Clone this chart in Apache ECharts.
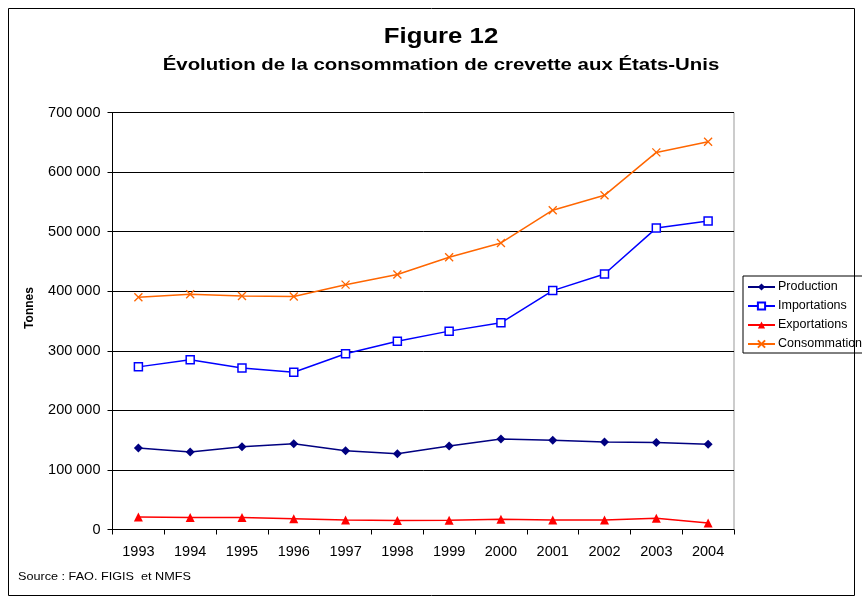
<!DOCTYPE html>
<html>
<head>
<meta charset="utf-8">
<script src="https://cdn.jsdelivr.net/npm/echarts@6/dist/echarts.min.js"></script>
<style>
  html, body { margin:0; padding:0; background:#fff; }
  #chart { width:862px; height:598px; }
</style>
</head>
<body>
<div id="chart"></div>
<script>
// données
var years = ['1993','1994','1995','1996','1997','1998','1999','2000','2001','2002','2003','2004'];
var production    = [137000,130000,139000,144000,132000,127000,140000,152000,150000,147000,146000,143000];
var importations  = [273000,285000,271000,264000,295000,316000,333000,347000,401000,429000,506000,518000];
var exportations  = [21000,20000,20000,18000,16000,15000,15500,17000,16000,16000,19000,11000];
var consommation  = [390000,395000,392000,391000,411000,428000,457000,481000,536000,561000,633000,651000];

var myChart = echarts.init(document.getElementById('chart'));

function fmt(v){
  return String(v).replace(/\B(?=(\d{3})+(?!\d))/g, ' ');
}

var font = 'Liberation Sans, Arial, sans-serif';

var option = {
  animation: false,
  textStyle: { fontFamily: font },
  graphic: [
    {
      type: 'rect',
      shape: { x: 8.5, y: 8.5, width: 846, height: 587 },
      style: { fill: 'none', stroke: '#000', lineWidth: 1 },
      z: -1
    },
    // titres (texte un peu étiré comme dans l'original)
    {
      type: 'text', x: 441, y: 37, scaleX: 1.17,
      style: { text: 'Figure 12', font: 'bold 22px ' + font, fill: '#000', align: 'center', verticalAlign: 'middle' }
    },
    {
      type: 'text', x: 441, y: 65, scaleX: 1.2,
      style: { text: 'Évolution de la consommation de crevette aux États-Unis', font: 'bold 17px ' + font, fill: '#000', align: 'center', verticalAlign: 'middle' }
    },
    {
      type: 'text', x: 30, y: 308, rotation: Math.PI / 2,
      style: { text: 'Tonnes', font: 'bold 12px ' + font, fill: '#000', align: 'center', verticalAlign: 'middle' }
    },
    {
      type: 'text', x: 18, y: 577, scaleX: 1.1,
      style: { text: 'Source : FAO. FIGIS  et NMFS', font: '11.5px ' + font, fill: '#000', align: 'left', verticalAlign: 'middle' }
    }
  ],
  legend: {
    orient: 'vertical',
    left: 743, top: 276,
    padding: [4, 4, 2, 4],
    itemGap: 5,
    itemWidth: 27,
    itemHeight: 9,
    borderColor: '#000',
    borderWidth: 1,
    textStyle: { fontSize: 12.5, lineHeight: 14, color: '#000', fontFamily: font, padding: [0, 0, 0, -2] },
    data: ['Production', 'Importations', 'Exportations', 'Consommation']
  },
  grid: {
    left: 112.5, right: 128, top: 112.5, bottom: 68.5,
    show: true, borderColor: '#999', borderWidth: 1
  },
  xAxis: {
    type: 'category',
    boundaryGap: true,
    data: years,
    axisLine: { lineStyle: { color: '#000', width: 1 } },
    axisTick: { show: true, length: 5, lineStyle: { color: '#000' } },
    axisLabel: { color: '#000', fontSize: 14.5, margin: 15, fontFamily: font }
  },
  yAxis: {
    type: 'value',
    min: 0, max: 700000, interval: 100000,
    axisLine: { show: true, lineStyle: { color: '#000', width: 1 } },
    axisTick: { show: true, length: 5, lineStyle: { color: '#000' } },
    axisLabel: { color: '#000', fontSize: 14.5, margin: 12, fontFamily: font, formatter: fmt },
    splitLine: { show: true, lineStyle: { color: '#000', width: 1 } }
  },
  series: [
    {
      name: 'Production', type: 'line', data: production,
      symbol: 'diamond', symbolSize: 9,
      lineStyle: { color: '#000080', width: 1.5 },
      itemStyle: { color: '#000080' }
    },
    {
      name: 'Importations', type: 'line', data: importations,
      symbol: 'rect', symbolSize: 8,
      lineStyle: { color: '#0000ff', width: 1.5 },
      itemStyle: { color: '#fff', borderColor: '#0000ff', borderWidth: 1.5 }
    },
    {
      name: 'Exportations', type: 'line', data: exportations,
      symbol: 'triangle', symbolSize: 9,
      lineStyle: { color: '#ff0000', width: 1.5 },
      itemStyle: { color: '#ff0000' }
    },
    {
      name: 'Consommation', type: 'line', data: consommation,
      symbol: 'path://M0,0L10,10M10,0L0,10', symbolSize: 8,
      lineStyle: { color: '#ff6600', width: 1.5 },
      itemStyle: { color: '#ff6600', borderColor: '#ff6600', borderWidth: 1.3 }
    }
  ]
};
myChart.setOption(option);
</script>
</body>
</html>
